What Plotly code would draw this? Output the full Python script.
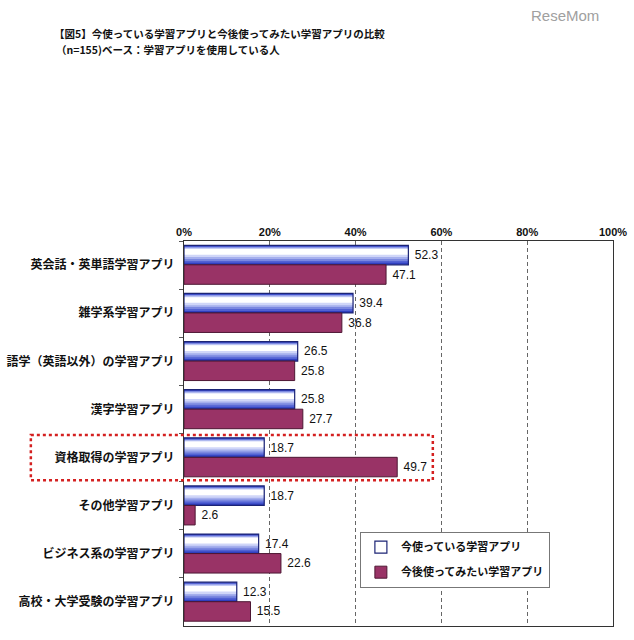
import plotly.graph_objects as go

categories = [
    "英会話・英単語学習アプリ",
    "雑学系学習アプリ",
    "語学（英語以外）の学習アプリ",
    "漢字学習アプリ",
    "資格取得の学習アプリ",
    "その他学習アプリ",
    "ビジネス系の学習アプリ",
    "高校・大学受験の学習アプリ",
]
current_use = [52.3, 39.4, 26.5, 25.8, 18.7, 18.7, 17.4, 12.3]
future_use = [47.1, 36.8, 25.8, 27.7, 49.7, 2.6, 22.6, 15.5]
series_names = ["今使っている学習アプリ", "今後使ってみたい学習アプリ"]
tick_vals = [0, 20, 40, 60, 80, 100]
tick_text = ["0%", "20%", "40%", "60%", "80%", "100%"]

JP = "Noto Sans CJK JP"
NUM = "Liberation Sans, Arial"

fig = go.Figure()

# blue gradient bands (style only): (top fraction, bottom fraction, color)
blue_off, blue_w = -0.41, 0.405
bands = [
    (0.0, 1.0, "#2f3fbf"),
    (0.05, 0.90, "#5262d4"),
    (0.08, 0.80, "#7b88e0"),
    (0.11, 0.70, "#a5afed"),
    (0.15, 0.60, "#d0d6f8"),
    (0.19, 0.48, "#ffffff"),
]
for t0, t1, col in bands:
    fig.add_trace(go.Bar(
        y=categories, x=current_use, orientation="h",
        offset=blue_off + t0 * blue_w, width=(t1 - t0) * blue_w,
        marker=dict(color=col, line=dict(width=0)),
        showlegend=False, hoverinfo="skip", legendgroup="a",
    ))

# blue outline + labels + legend entry
fig.add_trace(go.Bar(
    y=categories, x=current_use, orientation="h", name=series_names[0],
    offset=blue_off, width=blue_w,
    marker=dict(color="rgba(0,0,0,0)", line=dict(color="#1c2475", width=1.2)),
    text=[f"\u00a0{v:.1f}" for v in current_use], textposition="outside",
    textfont=dict(family=NUM, size=12, color="#111"),
    cliponaxis=False, legendgroup="a",
))

fig.add_trace(go.Bar(
    y=categories, x=future_use, orientation="h", name=series_names[1],
    offset=-0.005, width=0.405,
    marker=dict(color="#993366", line=dict(color="#4d1733", width=1)),
    text=[f"\u00a0{v:.1f}" for v in future_use], textposition="outside",
    textfont=dict(family=NUM, size=12, color="#111"),
    cliponaxis=False, legendgroup="b",
))

# dotted highlight box around 資格取得
hi = categories.index("資格取得の学習アプリ")
fig.add_shape(type="rect", xref="paper", yref="y",
              x0=-0.357, x1=0.58, y0=hi - 0.47, y1=hi + 0.47,
              line=dict(color="#d42020", width=2.5, dash="dot"))

fig.update_layout(
    width=634, height=640,
    margin=dict(l=184, r=21, t=241, b=14),
    paper_bgcolor="white", plot_bgcolor="white",
    barmode="overlay",
    showlegend=True,
    legend=dict(x=0.41, y=0.245, xanchor="left", yanchor="top",
                bordercolor="#777", borderwidth=1, bgcolor="white",
                font=dict(family=JP, size=11, color="#111", weight="bold"),
                traceorder="grouped", tracegroupgap=6, itemwidth=30),
    xaxis=dict(range=[0, 100], side="top", tickvals=tick_vals, ticktext=tick_text,
               tickfont=dict(family=NUM, size=11, color="#111", weight="bold"),
               showgrid=True, gridcolor="#666", griddash="4px,3px", gridwidth=1,
               showline=True, linecolor="#333", linewidth=1, mirror=True,
               ticks="", zeroline=False, fixedrange=True, automargin=False),
    yaxis=dict(type="category", autorange="reversed",
               tickfont=dict(family=JP, size=12, color="#111", weight="bold"),
               showline=True, linecolor="#333", linewidth=1, mirror=True,
               ticks="outside", tickson="boundaries", ticklen=4, tickcolor="#555",
               showgrid=False, ticklabelstandoff=6, automargin=False),
    annotations=[
        dict(text="【図5】今使っている学習アプリと今後使ってみたい学習アプリの比較",
             xref="paper", yref="paper", x=(52 - 184) / 429, y=1 + (241 - 33) / 385,
             xanchor="left", yanchor="middle", showarrow=False,
             font=dict(family=JP, size=10.5, color="#111", weight="bold")),
        dict(text="（n=155)ベース：学習アプリを使用している人",
             xref="paper", yref="paper", x=(54 - 184) / 429, y=1 + (241 - 50) / 385,
             xanchor="left", yanchor="middle", showarrow=False,
             font=dict(family=JP, size=10.5, color="#111", weight="bold")),
        dict(text="ReseMom", xref="paper", yref="paper",
             x=(601 - 184) / 429, y=1 + (241 - 15) / 385,
             xanchor="right", yanchor="middle", showarrow=False,
             font=dict(family="Liberation Sans, Arial", size=15, color="#a0a0a0")),
    ],
)

fig.write_html("out.html", config={"displayModeBar": False},
               post_script="document.body.style.margin='0px';")
